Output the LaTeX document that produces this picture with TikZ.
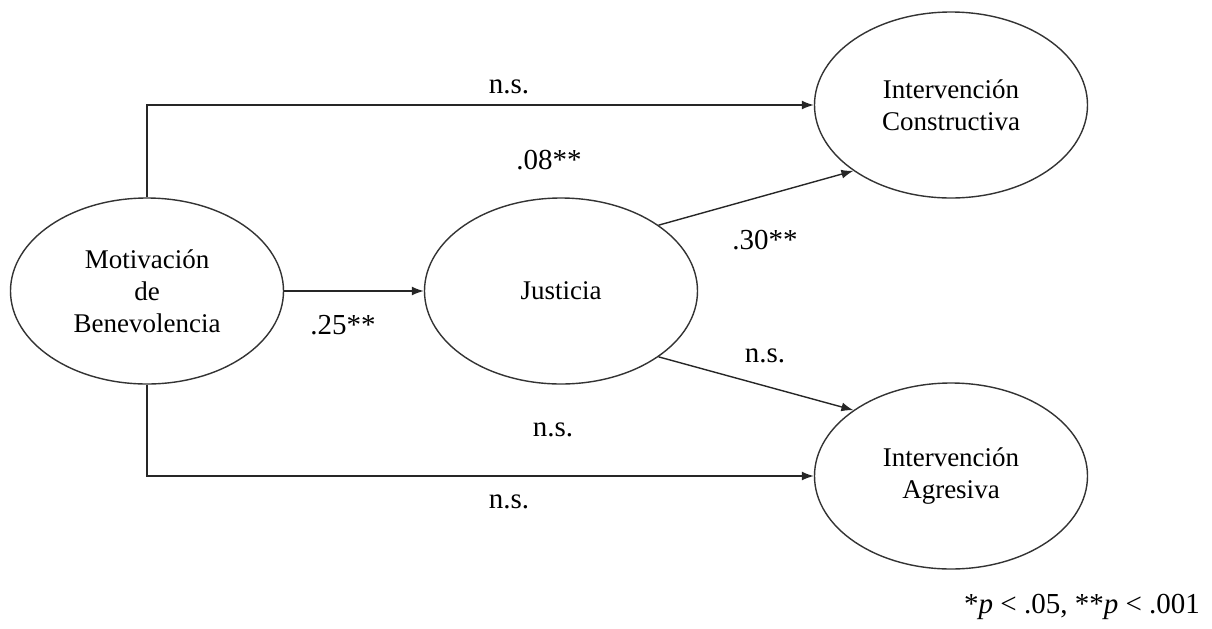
\documentclass[tikz,border=0pt]{standalone}
\usepackage{fontspec}
\setmainfont{Liberation Serif}
\usetikzlibrary{shapes.geometric,arrows.meta}
\begin{document}
\begin{tikzpicture}[x=0.5pt,y=-0.5pt,
        var/.style={draw=black!80,ellipse,line width=0.7pt,minimum width=136.5pt,minimum height=93pt,inner sep=0pt,align=center,font=\fontsize{13.5}{16}\selectfont},
        path/.style={draw=black!85,line width=0.7pt,-{Latex[length=6pt,width=4.5pt]}},
        coef/.style={font=\fontsize{14.5}{17}\selectfont}]
        \useasboundingbox (0,0) rectangle (1212,628);

        \node[var] (mot) at (147,291) {Motivación\\de\\Benevolencia};
        \node[var] (jus) at (561,291) {Justicia};
        \node[var] (con) at (951,105) {Intervención\\Constructiva};
        \node[var] (agr) at (951,476) {Intervención\\Agresiva};

        \path[path] (mot.north) |- (con.west);
        \path[path] (mot.south) |- (agr.west);
        \path[path] (mot.east) -- (jus.west);
        \path[path] (jus.34) -- (con.214);
        \path[path] (jus.-34) -- (agr.146);

        \node[coef] (c1) at (509,87) {n.s.};
        \node[coef] (c2) at (549,160) {.08**};
        \node[coef] (c3) at (765,240) {.30**};
        \node[coef] (c4) at (343,325) {.25**};
        \node[coef] (c5) at (765,356) {n.s.};
        \node[coef] (c6) at (553,430) {n.s.};
        \node[coef] (c7) at (509,502) {n.s.};

        \node[coef] (note) at (1082,607) {*\textit{p} < .05, **\textit{p} < .001};
    \end{tikzpicture}
\end{document}
